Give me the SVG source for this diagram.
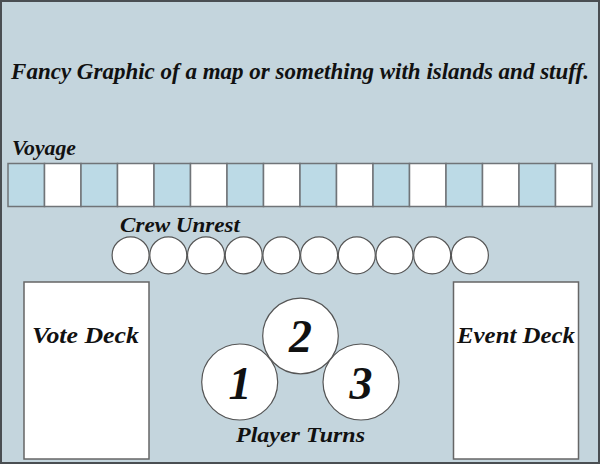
<svg xmlns="http://www.w3.org/2000/svg" width="600" height="464" viewBox="0 0 600 464">
<style>
.t{font-family:"Liberation Serif","DejaVu Serif",serif;font-style:italic;font-weight:bold;fill:#111}
.cell{stroke:#707478;stroke-width:1.5}
.b{fill:#bcdae6}.w{fill:#fff}
.ring{fill:#fff;stroke:#555;stroke-width:1.2}
.deck{fill:#fff;stroke:#666;stroke-width:1.5}
</style>
<rect x="1" y="1" width="598" height="462" fill="#c4d5dd" stroke="#4a4e52" stroke-width="2"/>
<g id="title"><text class="t" x="300" y="79" font-size="23" text-anchor="middle">Fancy Graphic of a map or something with islands and stuff.</text></g>
<g id="voyage">
<text class="t" x="12" y="155" font-size="21" textLength="64" lengthAdjust="spacingAndGlyphs">Voyage</text>
<rect class="cell b" x="8" y="163.5" width="36.5" height="43"/>
<rect class="cell w" x="44.5" y="163.5" width="36.5" height="43"/>
<rect class="cell b" x="81" y="163.5" width="36.5" height="43"/>
<rect class="cell w" x="117.5" y="163.5" width="36.5" height="43"/>
<rect class="cell b" x="154" y="163.5" width="36.5" height="43"/>
<rect class="cell w" x="190.5" y="163.5" width="36.5" height="43"/>
<rect class="cell b" x="227" y="163.5" width="36.5" height="43"/>
<rect class="cell w" x="263.5" y="163.5" width="36.5" height="43"/>
<rect class="cell b" x="300" y="163.5" width="36.5" height="43"/>
<rect class="cell w" x="336.5" y="163.5" width="36.5" height="43"/>
<rect class="cell b" x="373" y="163.5" width="36.5" height="43"/>
<rect class="cell w" x="409.5" y="163.5" width="36.5" height="43"/>
<rect class="cell b" x="446" y="163.5" width="36.5" height="43"/>
<rect class="cell w" x="482.5" y="163.5" width="36.5" height="43"/>
<rect class="cell b" x="519" y="163.5" width="36.5" height="43"/>
<rect class="cell w" x="555.5" y="163.5" width="36.5" height="43"/>
</g>
<g id="crew-unrest">
<text class="t" x="120" y="232" font-size="21" textLength="120" lengthAdjust="spacingAndGlyphs">Crew Unrest</text>
<circle class="ring" cx="130.6" cy="255.3" r="18.5"/>
<circle class="ring" cx="168.3" cy="255.3" r="18.5"/>
<circle class="ring" cx="206" cy="255.3" r="18.5"/>
<circle class="ring" cx="243.7" cy="255.3" r="18.5"/>
<circle class="ring" cx="281.4" cy="255.3" r="18.5"/>
<circle class="ring" cx="319.1" cy="255.3" r="18.5"/>
<circle class="ring" cx="356.8" cy="255.3" r="18.5"/>
<circle class="ring" cx="394.5" cy="255.3" r="18.5"/>
<circle class="ring" cx="432.2" cy="255.3" r="18.5"/>
<circle class="ring" cx="469.9" cy="255.3" r="18.5"/>
</g>
<g id="vote-deck">
<rect class="deck" x="24" y="282" width="125" height="177"/>
<text class="t" x="32" y="343" font-size="23" textLength="107" lengthAdjust="spacingAndGlyphs">Vote Deck</text>
</g>
<g id="event-deck">
<rect class="deck" x="453.5" y="282" width="125" height="177"/>
<text class="t" x="457" y="343" font-size="23" textLength="118" lengthAdjust="spacingAndGlyphs">Event Deck</text>
</g>
<g id="player-turns">
<circle class="ring" cx="239.7" cy="382" r="38"/>
<circle class="ring" cx="361" cy="382" r="38"/>
<circle class="ring" cx="300.5" cy="336" r="37.8"/>
<text class="t" x="240" y="399" font-size="46" text-anchor="middle">1</text>
<text class="t" x="300.5" y="352" font-size="46" text-anchor="middle">2</text>
<text class="t" x="361" y="399" font-size="46" text-anchor="middle">3</text>
<text class="t" x="236" y="442" font-size="21" textLength="129" lengthAdjust="spacingAndGlyphs">Player Turns</text>
</g>
</svg>
